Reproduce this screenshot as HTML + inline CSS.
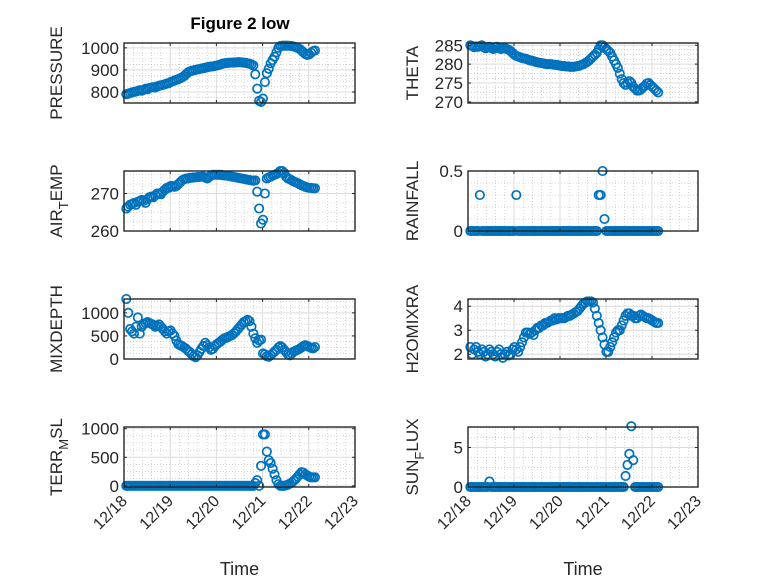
<!DOCTYPE html>
<html><head><meta charset="utf-8"><style>
body{margin:0;background:#fff}
svg{display:block;font-family:"Liberation Sans",sans-serif}
</style></head><body>
<svg id="fig" width="778" height="583" viewBox="0 0 778 583" xmlns="http://www.w3.org/2000/svg">
<rect width="778" height="583" fill="#fff"/>
<text x="240" y="29" text-anchor="middle" font-size="17" font-weight="bold" fill="#000">Figure 2 low</text>
</svg>
<script>
const dates=["12/18","12/19","12/20","12/21","12/22","12/23"];
const pressure=[790,792,795,798,800,802,805,808,806,810,815,812,818,820,822,820,825,828,830,832,835,838,840,845,
848,852,855,858,862,866,872,880,888,893,896,898,900,902,904,906,908,910,912,914,915,916,918,920,
922,925,928,930,931,932,933,933,934,934,935,935,934,933,932,930,928,925,920,880,815,760,755,770,
845,885,905,930,945,960,980,1000,1008,1010,1010,1010,1010,1009,1008,1006,1003,1000,995,988,980,972,968,970,978,985,988];
const airTemp=[266,266.5,267,267.2,267.5,267,267.8,268,268.3,268,267.5,268.5,269,269.2,269,269.5,270,270,269.8,270.5,271,271.5,271.5,272,
272,271.8,272,272.5,273,273.5,273.8,274,274,274.2,274.2,274.3,274.3,274.4,274.4,274.5,274.5,274.3,274,274.4,274.8,275,275,275,
275,275,274.9,274.8,274.8,274.7,274.6,274.5,274.4,274.3,274.2,274.1,274,273.9,273.8,273.7,273.6,273.5,273.4,273.5,270.5,266,262,263,
270,274,274.3,274.5,274.8,275,275.2,275.5,276,276,275.5,274.5,274,273.8,273.5,273.2,273,272.8,272.5,272.2,272,271.8,271.6,271.5,271.5,271.4,271.4];
const theta=[285,284.8,284.5,284.7,284.6,284.8,285,284.5,284.2,284.5,284.6,284.3,284,284.5,284.6,284.2,284,284.2,284.3,284,283.8,283.5,283,282.5,
282.2,282,281.8,281.6,281.5,281.4,281.2,281,280.9,280.8,280.6,280.5,280.4,280.3,280.2,280.1,280,280,280,279.9,279.8,279.8,279.7,279.6,
279.5,279.5,279.4,279.4,279.3,279.3,279.3,279.4,279.5,279.6,279.8,280,280.3,280.6,281,281.5,282,282.5,283,284,285,285,284.5,284,
283.5,283,282,281,280,279,277.5,276,275,274.5,275,275.5,275,274,273.5,273,273,273.3,273.8,274.2,274.8,275,274.5,274,273.5,273,272.5];
const rainfall=[0,0,0,0,0,0.3,0,0,0,0,0,0,0,0,0,0,0,0,0,0,0,0,0,0,
0.3,0,0,0,0,0,0,0,0,0,0,0,0,0,0,0,0,0,0,0,0,0,0,0,
0,0,0,0,0,0,0,0,0,0,0,0,0,0,0,0,0,0,0,0.3,0.3,0.5,0.1,0,
0,0,0,0,0,0,0,0,0,0,0,0,0,0,0,0,0,0,0,0,0,0,0,0,0,0,0];
const mixDepth=[1300,1000,650,600,550,700,900,550,700,750,780,800,780,760,740,700,720,750,700,650,600,550,600,620,
550,500,400,320,300,280,250,220,180,150,100,60,40,80,150,220,280,350,300,250,200,220,280,320,
350,380,420,450,460,480,500,520,560,600,650,700,750,800,820,850,820,700,550,450,350,400,420,120,
100,60,50,80,120,160,200,250,280,250,200,150,100,80,120,160,180,200,220,250,280,300,280,260,240,230,260];
const h2o=[2.3,2.0,2.2,2.3,2.1,2.0,2.2,2.1,1.9,2.0,2.2,2.1,2.0,1.9,2.1,2.2,2.0,1.85,2.0,2.1,1.95,2.0,2.2,2.3,
2.2,2.1,2.3,2.5,2.7,2.9,2.9,2.85,2.9,2.8,3.0,3.1,3.1,3.2,3.2,3.3,3.3,3.35,3.4,3.4,3.5,3.45,3.5,3.5,
3.5,3.5,3.55,3.6,3.6,3.65,3.7,3.75,3.8,3.9,4.0,4.1,4.15,4.2,4.2,4.2,4.15,3.9,3.6,3.3,3.0,2.7,2.4,2.1,
2.1,2.3,2.5,2.7,2.9,3.0,3.0,3.2,3.4,3.6,3.7,3.7,3.6,3.6,3.5,3.5,3.6,3.65,3.6,3.55,3.5,3.5,3.45,3.4,3.35,3.3,3.3];
const terrMsl=[0,0,0,0,0,0,0,0,0,0,0,0,0,0,0,0,0,0,0,0,0,0,0,0,
0,0,0,0,0,0,0,0,0,0,0,0,0,0,0,0,0,0,0,0,0,0,0,0,
0,0,0,0,0,0,0,0,0,0,0,0,0,0,0,0,0,0,0,50,100,0,350,900,
900,600,450,400,300,200,100,30,0,0,0,10,20,40,60,90,120,160,200,240,230,200,180,160,150,150,150];
const sunFlux=[0,0,0,0,0,0,0,0,0,0,0.7,0,0,0,0,0,0,0,0,0,0,0,0,0,
0,0,0,0,0,0,0,0,0,0,0,0,0,0,0,0,0,0,0,0,0,0,0,0,
0,0,0,0,0,0,0,0,0,0,0,0,0,0,0,0,0,0,0,0,0,0,0,0,
0,0,0,0,0,0,0,0,0,1.4,2.8,4.2,7.7,3.4,0,0,0,0,0,0,0,0,0,0,0,0,0];
const startDay=0.05, stepDay=1/24;

const NS="http://www.w3.org/2000/svg";
const svg=document.getElementById('fig');
function mk(tag,attrs,parent){const e=document.createElementNS(NS,tag);for(const k in attrs)e.setAttribute(k,attrs[k]);(parent||svg).appendChild(e);return e;}

const panels=[
 {name:"pressure",col:0,row:0,vals:pressure,ymin:750,ymax:1022,ticks:[800,900,1000],minor:25,label:["PRESSURE"]},
 {name:"theta",col:1,row:0,vals:theta,ymin:269.7,ymax:285.6,ticks:[270,275,280,285],minor:1.25,label:["THETA"]},
 {name:"air-temp",col:0,row:1,vals:airTemp,ymin:260,ymax:276,ticks:[260,270],minor:2.5,label:["AIR","T","EMP"]},
 {name:"rainfall",col:1,row:1,vals:rainfall,ymin:0,ymax:0.5,ticks:[0,0.5],minor:0.1,label:["RAINFALL"]},
 {name:"mixdepth",col:0,row:2,vals:mixDepth,ymin:0,ymax:1300,ticks:[0,500,1000],minor:125,label:["MIXDEPTH"]},
 {name:"h2omixra",col:1,row:2,vals:h2o,ymin:1.8,ymax:4.3,ticks:[2,3,4],minor:0.25,label:["H2OMIXRA"]},
 {name:"terr-msl",col:0,row:3,vals:terrMsl,ymin:-20,ymax:1030,ticks:[0,500,1000],minor:125,label:["TERR","M","SL"]},
 {name:"sun-flux",col:1,row:3,vals:sunFlux,ymin:0,ymax:7.6,ticks:[0,5],minor:1.25,label:["SUN","F","LUX"]}
];
const colX=[[124,355],[468,698]];
const rowY=[[43,103],[171,231],[299,359],[427,487]];
const C="#0072BD";

panels.forEach(p=>{
 const [x0,x1]=colX[p.col],[y0,y1]=rowY[p.row];
 const g=mk('g',{});
 
 
 const xs=d=>x0+(d)/5*(x1-x0);
 const ys=v=>y1-(v-p.ymin)/(p.ymax-p.ymin)*(y1-y0);
 for(let d=0;d<5;d++)for(let k=1;k<5;k++){const x=xs(d+k/5);mk('line',{x1:x,x2:x,y1:y0,y2:y1,stroke:"#b8b8b8","stroke-width":0.6,"stroke-dasharray":"1,2"},g);}
 for(let v=Math.ceil(p.ymin/p.minor)*p.minor;v<=p.ymax;v+=p.minor){const y=ys(v);mk('line',{x1:x0,x2:x1,y1:y,y2:y,stroke:"#b8b8b8","stroke-width":0.6,"stroke-dasharray":"1,2"},g);}
 for(let d=1;d<5;d++){const x=xs(d);mk('line',{x1:x,x2:x,y1:y0,y2:y1,stroke:"#dcdcdc","stroke-width":1},g);}
 p.ticks.forEach(v=>{const y=ys(v);mk('line',{x1:x0,x2:x1,y1:y,y2:y,stroke:"#dcdcdc","stroke-width":1},g);});
 p.vals.forEach((v,i)=>{
  const c=mk('circle',{cx:xs(startDay+i*stepDay),cy:ys(v),r:4.2,fill:"none",stroke:C,"stroke-width":1.7},g);
  
  
 });
 mk('rect',{x:x0,y:y0,width:x1-x0,height:y1-y0,fill:"none",stroke:"#262626","stroke-width":1.4},g);
 for(let d=0;d<=5;d++){const x=xs(d);mk('line',{x1:x,x2:x,y1:y1,y2:y1-3,stroke:"#262626"},g);mk('line',{x1:x,x2:x,y1:y0,y2:y0+3,stroke:"#262626"},g);}
 p.ticks.forEach(v=>{const y=ys(v);mk('line',{x1:x0,x2:x0+3,y1:y,y2:y,stroke:"#262626"},g);mk('line',{x1:x1,x2:x1-3,y1:y,y2:y,stroke:"#262626"},g);
  const t=mk('text',{x:x0-5,y:y+6,"text-anchor":"end","font-size":17,fill:"#262626"},g);t.textContent=String(v);
  
  
 });
 const lx=x0-(p.col===0?62:50), ly=(y0+y1)/2;
 const yl=mk('text',{x:lx,y:ly,"text-anchor":"middle","font-size":17,fill:"#262626",transform:`rotate(-90 ${lx} ${ly})`},g);
 
 
 if(p.label.length===1){yl.textContent=p.label[0];}
 else{const a=mk('tspan',{},yl);a.textContent=p.label[0];const b=mk('tspan',{dy:6,"font-size":13},yl);b.textContent=p.label[1];const c=mk('tspan',{dy:-6},yl);c.textContent=p.label[2];}
 if(p.row===3){
  dates.forEach((s,d)=>{const x=xs(d);const t=mk('text',{x:x+4,y:y1+15,"text-anchor":"end","font-size":16,fill:"#262626",transform:`rotate(-45 ${x+4} ${y1+15})`},g);t.textContent=s;
   
   });
  const xl=mk('text',{x:(x0+x1)/2,y:575,"text-anchor":"middle","font-size":18,fill:"#262626"},g);xl.textContent="Time";
  
  
 }
});
</script>
</body></html>
